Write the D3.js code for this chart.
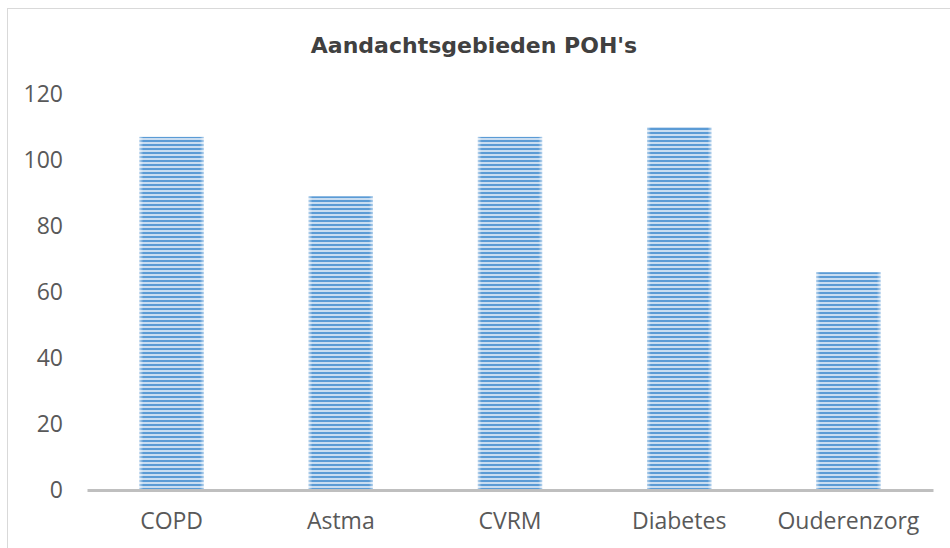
<!DOCTYPE html>
<html>
<head>
<meta charset="utf-8">
<script src="https://cdn.jsdelivr.net/npm/d3@7"></script>
<style>
  body { margin: 0; background: #fff; }
  svg { display: block; }
</style>
</head>
<body>
<svg id="chart" width="950" height="548"></svg>
<script>
// Data
const categories = ["COPD", "Astma", "CVRM", "Diabetes", "Ouderenzorg"];
const values = [107, 89, 107, 110, 66];
const yTicks = [0, 20, 40, 60, 80, 100, 120];
const title = "Aandachtsgebieden POH's";

const width = 950, height = 548;
const margin = { top: 94, right: 17, bottom: 58, left: 87 };
const labelFont = "'Open Sans', 'Noto Sans', sans-serif";

const $svg = d3.select("#chart");

// Pattern for striped bars
const defs = $svg.append("defs");
const pat = defs.append("pattern")
    .attr("id", "stripes")
    .attr("patternUnits", "userSpaceOnUse")
    .attr("width", 8)
    .attr("height", 4);
pat.append("rect").attr("width", 8).attr("height", 4).attr("fill", "#c9ddf1");
pat.append("rect").attr("y", 0).attr("width", 8).attr("height", 2).attr("fill", "#5b9bd5");

const edge = defs.append("linearGradient").attr("id", "edge");
[[0, 0.55], [0.06, 0], [0.94, 0], [1, 0.55]].forEach(([o, a]) => {
    edge.append("stop").attr("offset", o).attr("stop-color", "#fff").attr("stop-opacity", a);
});

// Outer border
$svg.append("rect")
    .attr("x", 7.5).attr("y", 8.5)
    .attr("width", 960).attr("height", 560)
    .attr("fill", "none")
    .attr("stroke", "#d9d9d9");

// Scales
const x = d3.scaleBand()
    .domain(categories)
    .range([margin.left, width - margin.right])
    .paddingInner(0.62)
    .paddingOuter(0.31);

const y = d3.scaleLinear()
    .domain([0, 120])
    .range([height - margin.bottom, margin.top]);

// Title
$svg.append("text")
    .attr("x", 474)
    .attr("y", 53)
    .attr("text-anchor", "middle")
    .attr("font-family", "DejaVu Sans")
    .attr("font-weight", "bold")
    .attr("font-size", 22)
    .attr("fill", "#404040")
    .text(title);

// Y axis labels
const yAxis = d3.axisLeft(y).tickValues(yTicks).tickSize(0).tickPadding(24);
$svg.append("g")
    .attr("transform", `translate(${margin.left},0)`)
    .call(yAxis)
    .call(g => g.select(".domain").remove())
    .call(g => g.selectAll("text")
        .attr("font-family", labelFont)
        .attr("font-size", 23)
        .attr("fill", "#595959"));

// Bars
const bars = $svg.append("g");
bars.selectAll("rect.bar")
    .data(values)
    .join("rect")
    .attr("class", "bar")
    .attr("x", (d, i) => x(categories[i]))
    .attr("y", d => y(d))
    .attr("width", x.bandwidth())
    .attr("height", d => y(0) - y(d))
    .attr("fill", "url(#stripes)");
bars.selectAll("rect.edge")
    .data(values)
    .join("rect")
    .attr("class", "edge")
    .attr("x", (d, i) => x(categories[i]))
    .attr("y", d => y(d))
    .attr("width", x.bandwidth())
    .attr("height", d => y(0) - y(d))
    .attr("fill", "url(#edge)");

// X axis
const xAxis = d3.axisBottom(x).tickSize(0).tickPadding(23);
$svg.append("g")
    .attr("transform", `translate(0,${y(0)})`)
    .call(xAxis)
    .call(g => g.select(".domain").attr("stroke", "#bfbfbf").attr("stroke-width", 3))
    .call(g => g.selectAll("text")
        .attr("font-family", labelFont)
        .attr("font-size", 23)
        .attr("fill", "#595959"));
</script>
</body>
</html>
